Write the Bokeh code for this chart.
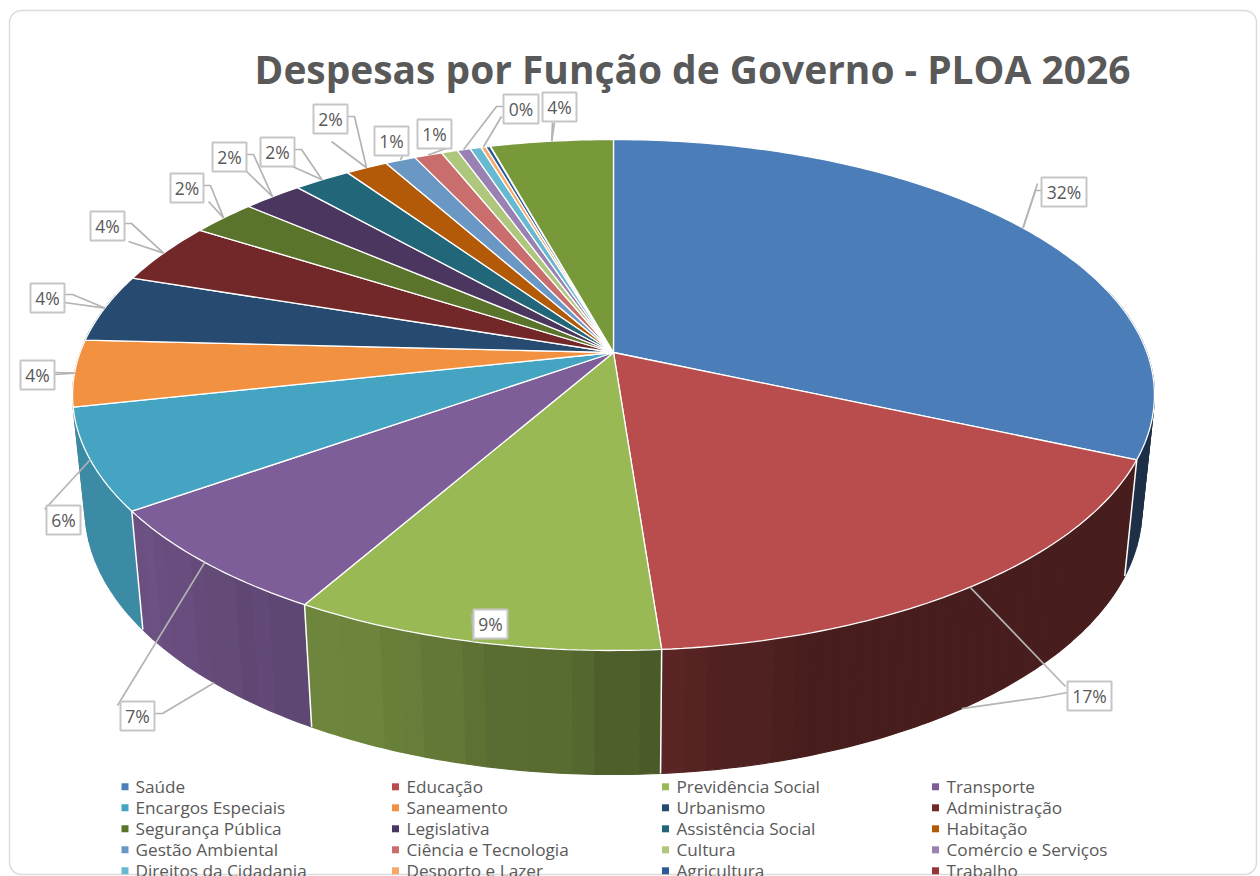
import math
import numpy as np
from bokeh.core.properties import value
from bokeh.embed import file_html
from bokeh.models import Range1d
from bokeh.plotting import figure
from bokeh.resources import INLINE

TITLE = "Despesas por Função de Governo - PLOA 2026"
categories = ["Saúde", "Educação", "Previdência Social", "Transporte", "Encargos Especiais",
              "Saneamento", "Urbanismo", "Administração", "Segurança Pública", "Legislativa",
              "Assistência Social", "Habitação", "Gestão Ambiental", "Ciência e Tecnologia",
              "Cultura", "Comércio e Serviços", "Direitos da Cidadania", "Desporto e Lazer",
              "Agricultura", "Trabalho", "Outras Funções"]
shares = [31.6, 17.2, 9.45, 6.95, 6.4, 4.2, 4.3, 3.9, 2.3, 2.1, 2.0, 1.48, 1.07, 0.98,
          0.57, 0.46, 0.39, 0.17, 0.15, 0.02, 4.31]
colors = ["#4B7DB8", "#B94C4C", "#98B954", "#7E5E98", "#46A4C3", "#F29240", "#264A70",
          "#722828", "#5A742C", "#4A365E", "#22667A", "#B35A08", "#6B97C5", "#C96D6D",
          "#AFC77C", "#9A81B4", "#67B9D2", "#F7A868", "#2C5A92", "#963535", "#77993A"]
percent_labels = ["32%", "17%", "9%", "7%", "6%", "4%", "4%", "4%", "2%", "2%", "2%", "2%",
                  "1%", "1%", "0%", "4%"]
labelled = [0, 1, 2, 3, 4, 5, 6, 7, 8, 9, 10, 11, 12, 13, 15, 20]

# label layout: box left, top, width; start of the elbow line, elbow, start of second line
box_left = [1041, 1067, 473, 120, 46, 20, 30, 90, 170, 212, 260, 313, 374, 417, 503, 542]
box_top = [177, 681, 609, 701, 505, 360, 283, 211, 173, 142, 137, 104, 126, 119, 94, 92]
box_w = [45, 44, 34, 34, 34, 34, 34, 34, 33, 34, 34, 34, 34, 34, 35, 34]
leader_a = [[(1041, 190), (1035, 190)], [(1065, 686)], [(471, 614)], [(117, 705)], [(44, 509)],
            [(54, 372)], [(64, 294), (72, 294)], [(124, 223), (131, 223)],
            [(203, 185), (210, 185)], [(246, 154), (253, 154)], [(294, 149), (301, 149)],
            [(347, 116), (354, 116)], [(405, 150)], [(451, 146)], [(503, 106), (496, 106)],
            [(552, 122)]]
leader_b = [[(1037, 183)], [(1067, 692), (1040, 697)], None, [(154, 713), (162, 713)], None,
            [(54, 374)], [(64, 302)], [(128, 241)], [(208, 201)], [(246, 171)], [(292, 166)],
            [(331, 141)], None, None, [(501, 116)], [(554, 122)]]

CX, CY, A, B, K = 613, 352, 533.4, 248.4, 0.1664


def rim(frac):
    th = 2 * np.pi * np.asarray(frac)
    d = 1 + K * np.cos(th)
    return CX + A * np.sin(th) / d, CY - B * np.cos(th) / d


def base(x, y):
    return CX + 0.977 * (np.asarray(x) - CX), 1.04 * np.asarray(y) + 98


def darker(hex_color, f):
    f = max(0, min(1, f))
    return "#%02x%02x%02x" % tuple(int(int(hex_color[i:i + 2], 16) * f) for i in (1, 3, 5))


p = figure(width=1260, height=876, x_range=Range1d(0, 1260), y_range=Range1d(876, 0),
           output_backend="svg", toolbar_location=None, min_border=0,
           background_fill_color="white", outline_line_color=None)
p.axis.visible = False
p.grid.visible = False

# card outline
r, L, T, R_, Bt = 12, 9, 10, 1256, 874
ang = np.linspace(0, np.pi / 2, 10)
card_x = np.r_[L + r - r * np.cos(ang), R_ - r + r * np.sin(ang), R_ - r + r * np.cos(ang), L + r - r * np.sin(ang), L]
card_y = np.r_[T + r - r * np.sin(ang), T + r - r * np.cos(ang), Bt - r + r * np.sin(ang), Bt - r + r * np.cos(ang), T + r]
p.line(card_x, card_y, line_color="#dcdcdc", line_width=1.5)

edges = np.r_[0, np.cumsum(shares)] / sum(shares)

# side wall
shade_x = [131, 304, 660, 800]
shade_f = [0.85, 0.74, 0.5, 0.39]
jitter = [0.0, 0.012, -0.008, 0.008, -0.012, 0.004, 0.014, -0.004]
strips = []
for i, c in enumerate(colors):
    n = max(1, int((edges[i + 1] - edges[i]) * 180))
    fr = np.linspace(edges[i], edges[i + 1], n + 1)
    for j in range(n):
        f0, f1 = fr[j], fr[j + 1]
        m = (f0 + f1) / 2
        if math.cos(2 * math.pi * m) > 0.25:
            continue
        sub = np.linspace(f0, f1, 4)
        tx, ty = rim(sub)
        bx, by = base(tx, ty)
        mx = float(np.mean(tx))
        s = float(np.interp(mx, shade_x, shade_f))
        if 140 < mx < 800:
            s = round(s * 40) / 40 + jitter[(j // 3 + i) % len(jitter)]
        strips.append((float(by.max()), list(tx) + list(bx[::-1]), list(ty) + list(by[::-1]), darker(c, s)))
strips.sort(key=lambda q: q[0])
p.patches([q[1] for q in strips], [q[2] for q in strips], fill_color=[q[3] for q in strips],
          line_color=[q[3] for q in strips], line_width=1.2)

# white joints on the side wall
for e in edges[1:5]:
    tx, ty = rim(e)
    bx, by = base(tx, ty)
    p.line([float(tx), float(bx)], [float(ty), float(by)], line_color="white", line_width=1.5)

# top face
xs, ys = [], []
for i in range(len(shares)):
    n = max(3, int((edges[i + 1] - edges[i]) * 400))
    tx, ty = rim(np.linspace(edges[i], edges[i + 1], n))
    xs.append([CX] + list(tx))
    ys.append([CY] + list(ty))
p.patches(xs, ys, fill_color=colors, line_color="white", line_width=1.3)

# leader lines, ending on the slices
mid = (edges[:-1] + edges[1:]) / 2
lx, ly = [], []
for k, idx in enumerate(labelled):
    ax, ay = rim(mid[idx])
    ax, ay = float(ax), float(ay)
    a = leader_a[k]
    lx.append([q[0] for q in a] + [ax])
    ly.append([q[1] for q in a] + [ay])
    b = leader_b[k]
    if b:
        ex, ey = ax, ay
        if idx in (1, 3):
            ex, ey = base(ax, ay)
            ex, ey = float(ex), float(ey)
        if idx == 15:
            ex, ey = rim(mid[17])
            ex, ey = float(ex), float(ey)
        lx.append([q[0] for q in b] + [ex])
        ly.append([q[1] for q in b] + [ey])
p.multi_line(lx, ly, line_color="#b4b4b4", line_width=1.7)

# label boxes
BOX_H = 29
left = np.array(box_left, float)
top = np.array(box_top, float)
w = np.array(box_w, float)
p.quad(left=left, right=left + w, top=top, bottom=top + BOX_H, fill_color="white",
       line_color="#c6c6c6", line_width=2)
p.text(x=left + w / 2, y=top + BOX_H / 2, text=percent_labels, text_align="center",
       text_baseline="middle", text_color="#595959", text_font=value("Open Sans"),
       text_font_size="17.5px")

# title
p.text(x=[692], y=[67.5], text=[TITLE], text_align="center", text_baseline="middle",
       text_color="#595959", text_font=value("Open Sans"), text_font_style="bold",
       text_font_size="38.9px")

# legend
col_marker = [124.5, 395, 665, 935]
col_text = [135, 406, 676, 946]
row_y = [786.3, 807.3, 828.3, 849.3, 870.3]
visible = categories[:20]
mx = [col_marker[i % 4] for i in range(len(visible))]
tx = [col_text[i % 4] for i in range(len(visible))]
ty = [row_y[i // 4] for i in range(len(visible))]
p.scatter(mx, ty, marker="square", size=7, fill_color=colors[:20], line_color=None)
p.text(x=tx, y=ty, text=visible, text_baseline="middle", text_color="#595959",
       text_font=value("Open Sans"), text_font_size="17.2px")

open("out.html", "w").write(file_html(p, INLINE))
